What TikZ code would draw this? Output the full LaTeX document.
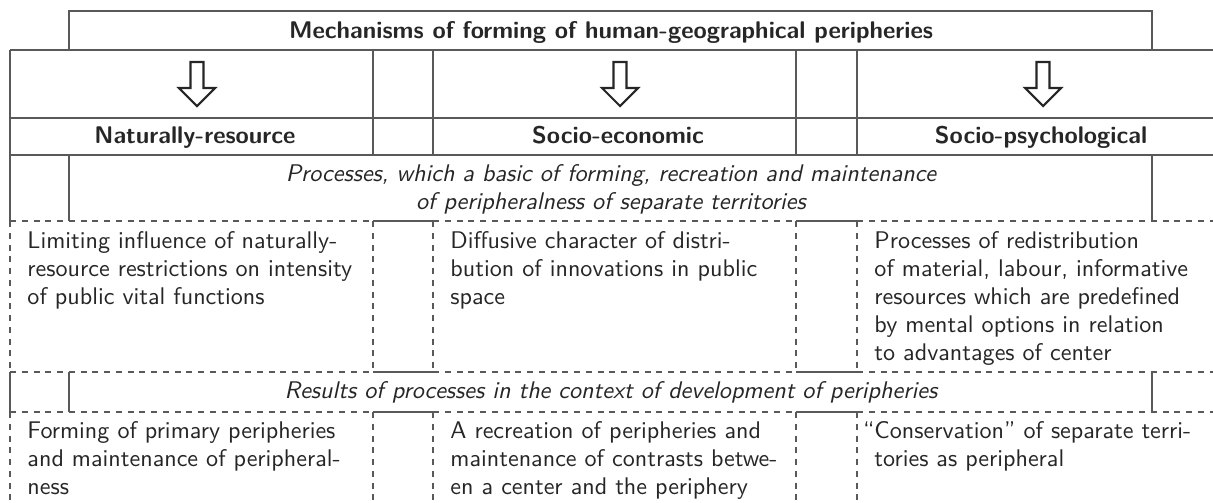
\documentclass[tikz,border=0pt]{standalone}
\usepackage{tikz}
\renewcommand{\familydefault}{\sfdefault}
\AtBeginDocument{\fontsize{10.25}{12}\selectfont}
\tikzset{
    %Define solid and dashed table lines
    rule/.style={
           draw=black!65,
           line width=0.5pt},
    drule/.style={
           rule,
           dash pattern=on 2.6pt off 2.4pt},
    %Define text styles
    head/.style={
           font=\bfseries,
           anchor=base,
           inner sep=0pt},
    note/.style={
           font=\itshape,
           align=center,
           inner sep=0pt},
    cell/.style={
           anchor=base west,
           text width=165pt,
           align=left,
           inner sep=0pt},
    % Define hollow arrow
    downarrow/.pic={
           \draw[line width=0.9pt, draw=black!85]
           (-6.5,-22) -- (6.5,-22) -- (6.5,4) -- (18,4) -- (0,22)
           -- (-18,4) -- (-6.5,4) -- cycle;}
}
\begin{document}
\begin{tikzpicture}[x=0.4255pt, y=-0.4255pt, every node/.append style={text=black!85}]
\useasboundingbox (0,0) rectangle (1213,502);
\clip (0,0) rectangle (1213,502);
% title box and head rows
\draw[rule] (69,50) -- (69,11) -- (1152,11) -- (1152,50);
\foreach \y in {50,118,155}
  \draw[rule] (10,\y) -- (1220,\y);
\foreach \x in {10,373,433,796,857,1220}
  \draw[rule] (\x,50) -- (\x,155);
% rows with italic notes
\foreach \x in {10,69,1152,1220}{
  \draw[rule] (\x,155) -- (\x,221);
  \draw[rule] (\x,372) -- (\x,412);}
% dashed cells
\foreach \y in {221,372,412}{
  \foreach \x in {10,433,857}
    \draw[drule] (\x,\y) -- ++(363,0);
  \draw[rule] (373,\y) -- (433,\y);
  \draw[rule] (796,\y) -- (857,\y);}
\foreach \x in {10,373,433,796,857,1220}{
  \draw[drule] (\x,221) -- (\x,372);
  \draw[drule] (\x,412) -- (\x,510);}

\node[head](title) at (611,38){Mechanisms of forming of human-geographical peripheries};
\pic at (197,84){downarrow};
\pic at (620,84){downarrow};
\pic at (1043,84){downarrow};
\node[head](nat) at (195,143){Naturally-resource};
\node[head](eco) at (618,143){Socio-economic};
\node[head](psy) at (1041,143){Socio-psychological};
\node[note](proc) at (611,189){Processes, which a basic of forming, recreation and maintenance\\of peripheralness of separate territories};
\node[cell](natproc) at (27,248){Limiting influence of naturally-\\resource restrictions on intensity\\of public vital functions};
\node[cell](ecoproc) at (450,248){Diffusive character of distri-\\bution of innovations in public\\space};
\node[cell](psyproc) at (874,248){Processes of redistribution\\of material, labour, informative\\resources which are predefined\\by mental options in relation\\to advantages of center};
\node[note](res) at (611,392){Results of processes in the context of development of peripheries};
\node[cell](natres) at (27,438){Forming of primary peripheries\\and maintenance of peripheral-\\ness};
\node[cell](ecores) at (450,438){A recreation of peripheries and\\maintenance of contrasts betwe-\\en a center and the periphery};
\node[cell](psyres) at (874,438){\llap{``}Conservation'' of separate terri-\\tories as peripheral};
\end{tikzpicture}
\end{document}
